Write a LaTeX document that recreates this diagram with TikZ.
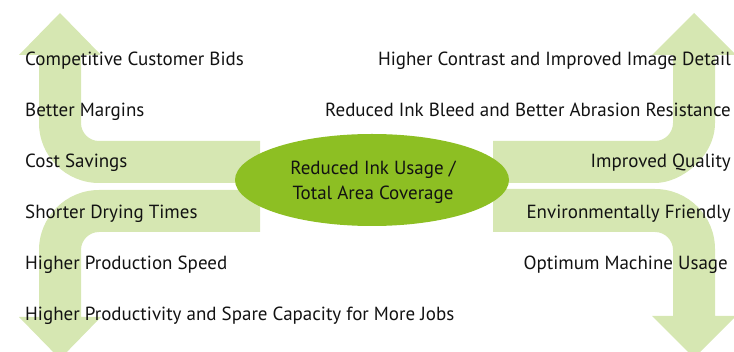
\documentclass[tikz,border=0pt]{standalone}
\usepackage{fontspec}
\setmainfont{PT Sans}
\definecolor{arrowgreen}{RGB}{214,231,178}
\definecolor{ellgreen}{RGB}{141,191,35}
\definecolor{txt}{RGB}{18,18,18}
\begin{document}
\begin{tikzpicture}[x=1pt,y=-1pt,
  lbl/.style={font=\fontsize{19}{22}\selectfont, text=txt, inner sep=0pt},
  band/.style={fill=arrowgreen}]
\useasboundingbox (0,0) rectangle (734,352);
\clip (0,0) rectangle (734,352);
% top-left arrow
\fill[band] (260,141) -- (99,141) .. controls (89.1,141) and (81,132.9) .. (81,123)
  -- (81,55) -- (101,55) -- (60,13) -- (19,55) -- (39,55) -- (39,123)
  .. controls (39,156.1) and (65.9,183) .. (99,183) -- (260,183) -- cycle;
% bottom-left arrow
\fill[band] (260,190) -- (99,190) .. controls (65.9,190) and (39,216.9) .. (39,250)
  -- (39,317) -- (19,317) -- (60,359) -- (101,317) -- (81,317) -- (81,250)
  .. controls (81,240.1) and (89.1,232) .. (99,232) -- (260,232) -- cycle;
% top-right arrow
\fill[band] (493,141) -- (655,141) .. controls (664.9,141) and (673,132.9) .. (673,123)
  -- (673,55) -- (652,55) -- (694,13) -- (736,55) -- (715,55) -- (715,123)
  .. controls (715,156.1) and (681.9,183) .. (655,183) -- (493,183) -- cycle;
% bottom-right arrow
\fill[band] (493,189) -- (655,189) .. controls (688.1,189) and (715,215.9) .. (715,249)
  -- (715,316) -- (736,316) -- (694,358) -- (652,316) -- (673,316) -- (673,250)
  .. controls (673,240.1) and (664.9,232) .. (655,232) -- (493,232) -- cycle;
% centre ellipse
\fill[ellgreen] (372,180) ellipse [x radius=137, y radius=46];
\node[lbl, align=center, anchor=base] (c1) at (373,175) {Reduced Ink Usage /};
\node[lbl, align=center, anchor=base] (c2) at (373,200) {Total Area Coverage};
% left labels
\node[lbl, anchor=base west] (l1) at (25,66) {Competitive Customer Bids};
\node[lbl, anchor=base west] (l2) at (25,117) {Better Margins};
\node[lbl, anchor=base west] (l3) at (25,168) {Cost Savings};
\node[lbl, anchor=base west] (l4) at (25,219) {Shorter Drying Times};
\node[lbl, anchor=base west] (l5) at (25,270) {Higher Production Speed};
\node[lbl, anchor=base west] (l6) at (25,321) {Higher Productivity and Spare Capacity for More Jobs};
% right labels
\node[lbl, anchor=base east] (r1) at (731,66) {Higher Contrast and Improved Image Detail};
\node[lbl, anchor=base east] (r2) at (731,117) {Reduced Ink Bleed and Better Abrasion Resistance};
\node[lbl, anchor=base east] (r3) at (731,168) {Improved Quality};
\node[lbl, anchor=base east] (r4) at (731,219) {Environmentally Friendly};
\node[lbl, anchor=base east] (r5) at (728,270) {Optimum Machine Usage};
\end{tikzpicture}
\end{document}
